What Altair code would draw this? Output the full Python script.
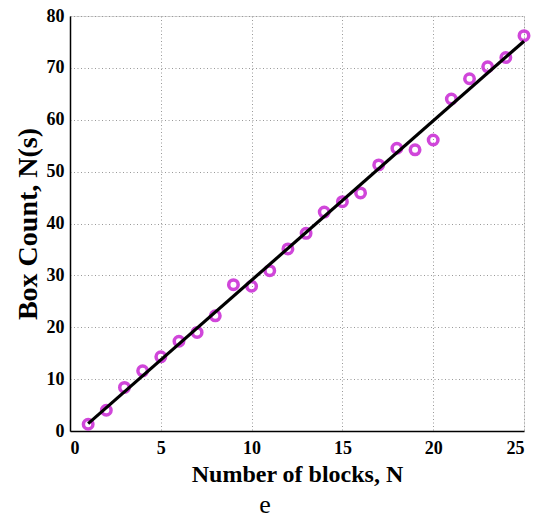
import altair as alt
import pandas as pd

blocks = list(range(1, 26))
box_count = [1.3, 4.0, 8.4, 11.6, 14.3, 17.3, 19.0, 22.2, 28.2, 27.9,
             30.9, 35.1, 38.1, 42.2, 44.2, 45.9, 51.3, 54.5, 54.2, 56.1,
             64.0, 67.9, 70.2, 72.0, 76.2]
x_ticks = [0, 5, 10, 15, 20, 25]
y_ticks = [0, 10, 20, 30, 40, 50, 60, 70, 80]

df = pd.DataFrame({"N": blocks, "count": box_count})

FONT = "Liberation Serif"

xscale = alt.Scale(domain=[0, 25], nice=False, zero=False)
yscale = alt.Scale(domain=[0, 80], nice=False)

xaxis = alt.Axis(values=x_ticks, title="Number of blocks, N", grid=True,
                 gridColor="#999999", gridDash=[1, 2.5], gridWidth=1,
                 domainColor="#000000", domainWidth=1.5, ticks=False,
                 labelFont=FONT, labelFontSize=18, labelFontWeight="bold",
                 labelColor="#000000", labelPadding=8,
                 titleFont=FONT, titleFontSize=24, titleFontWeight="bold",
                 titleColor="#000000", titlePadding=5)
yaxis = alt.Axis(values=y_ticks, title="Box Count, N(s)", grid=True,
                 gridColor="#999999", gridDash=[1, 2.5], gridWidth=1,
                 domainColor="#000000", domainWidth=1.5, ticks=False,
                 labelFont=FONT, labelFontSize=18, labelFontWeight="bold",
                 labelColor="#000000", labelPadding=6,
                 titleFont=FONT, titleFontSize=28, titleFontWeight="bold",
                 titleColor="#000000", titlePadding=4)

base = alt.Chart(df)

points = base.mark_point(shape="circle", filled=False, size=90,
                         strokeWidth=3.5, color="#cc33d6", opacity=0.9).encode(
    x=alt.X("N:Q", scale=xscale, axis=xaxis),
    y=alt.Y("count:Q", scale=yscale, axis=yaxis),
)

fit = base.transform_regression("N", "count").mark_line(
    color="#000000", strokeWidth=3.2).encode(
    x=alt.X("N:Q", scale=xscale),
    y=alt.Y("count:Q", scale=yscale),
)

chart = alt.layer(points, fit).properties(
    width=454, height=415,
    autosize=alt.AutoSizeParams(type="none"),
    padding={"left": 70, "top": 16, "right": 15, "bottom": 88},
    title=alt.TitleParams(text="e", orient="bottom", anchor="middle",
                          font=FONT, fontSize=26, fontWeight="normal",
                          color="#000000", dx=-32, offset=6),
).configure_view(stroke=None).configure(background="#ffffff")

chart.save("out.html", embed_options={"renderer": "svg", "actions": False})
